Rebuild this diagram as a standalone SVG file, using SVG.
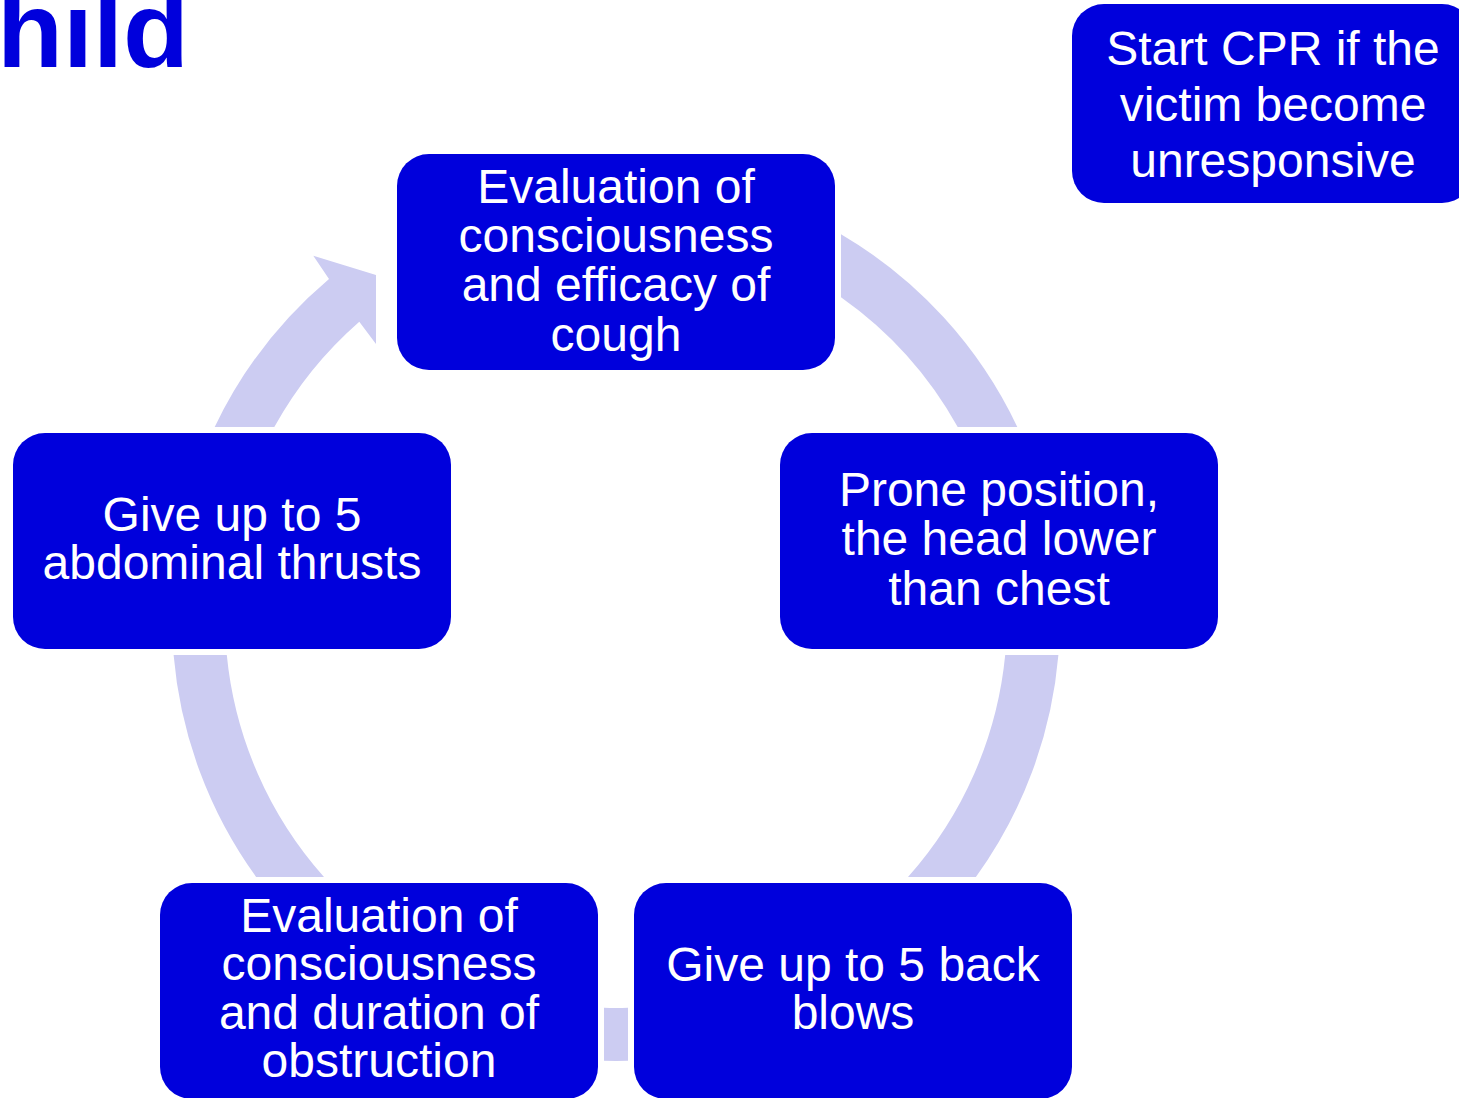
<svg xmlns="http://www.w3.org/2000/svg" width="1459" height="1098" viewBox="0 0 1459 1098">
  <style>
    .box { fill: #0000DC; }
    .lbl { fill: #FFFFFF; font-family: "Liberation Sans", Arial, sans-serif; font-size: 48px; text-anchor: middle; }
    .cpr { font-size: 48px; }
    .arc { fill: #CCCCF2; stroke: none; }
    .title { fill: #0000DC; font-family: "Liberation Sans", Arial, sans-serif; font-size: 108px; font-weight: bold; }
  </style>
  <rect width="1459" height="1098" fill="#FFFFFF"/>
  <text class="title" x="-3" y="67">hild</text>

  <g id="connectors">
    <path class="arc" d="M841,234.2 A444,444 0 0 1 1017.3,427 L957.7,427 A391,391 0 0 0 841,297.2 Z"/>
    <path class="arc" d="M1058.4,655 A444,444 0 0 1 975.9,877 L908,877 A391,391 0 0 0 1005.2,655 Z"/>
    <path class="arc" d="M628,1007.8 A391,391 0 0 1 604,1007.8 L604,1060.8 A444,444 0 0 0 628,1060.8 Z"/>
    <path class="arc" d="M256.1,877 A444,444 0 0 1 173.6,655 L226.8,655 A391,391 0 0 0 324,877 Z"/>
    <path class="arc" d="M214.7,427 A444,444 0 0 1 329,279 L313.3,255.7 L376,275 L376,344 L359.3,321.7 A391,391 0 0 0 274.3,427 Z"/>
  </g>

  <g id="node-evaluation-cough">
    <rect class="box" x="397" y="154" width="438" height="216" rx="32" ry="32"/>
    <text class="lbl" x="616" y="203">Evaluation of</text>
    <text class="lbl" x="616" y="252">consciousness</text>
    <text class="lbl" x="616" y="301">and efficacy of</text>
    <text class="lbl" x="616" y="351">cough</text>
  </g>

  <g id="node-prone">
    <rect class="box" x="780" y="433" width="438" height="216" rx="32" ry="32"/>
    <text class="lbl" x="999" y="506">Prone position,</text>
    <text class="lbl" x="999" y="555">the head lower</text>
    <text class="lbl" x="999" y="605">than chest</text>
  </g>

  <g id="node-back-blows">
    <rect class="box" x="634" y="883" width="438" height="216" rx="32" ry="32"/>
    <text class="lbl" x="853" y="981">Give up to 5 back</text>
    <text class="lbl" x="853" y="1029">blows</text>
  </g>

  <g id="node-evaluation-obstruction">
    <rect class="box" x="160" y="883" width="438" height="216" rx="32" ry="32"/>
    <text class="lbl" x="379" y="932">Evaluation of</text>
    <text class="lbl" x="379" y="980">consciousness</text>
    <text class="lbl" x="379" y="1029">and duration of</text>
    <text class="lbl" x="379" y="1077">obstruction</text>
  </g>

  <g id="node-abdominal">
    <rect class="box" x="13" y="433" width="438" height="216" rx="32" ry="32"/>
    <text class="lbl" x="232" y="531">Give up to 5</text>
    <text class="lbl" x="232" y="579">abdominal thrusts</text>
  </g>

  <g id="node-cpr">
    <rect class="box" x="1072" y="4" width="402" height="199" rx="32" ry="32"/>
    <text class="lbl cpr" x="1273" y="65">Start CPR if the</text>
    <text class="lbl cpr" x="1273" y="121">victim become</text>
    <text class="lbl cpr" x="1273" y="177">unresponsive</text>
  </g>
</svg>
